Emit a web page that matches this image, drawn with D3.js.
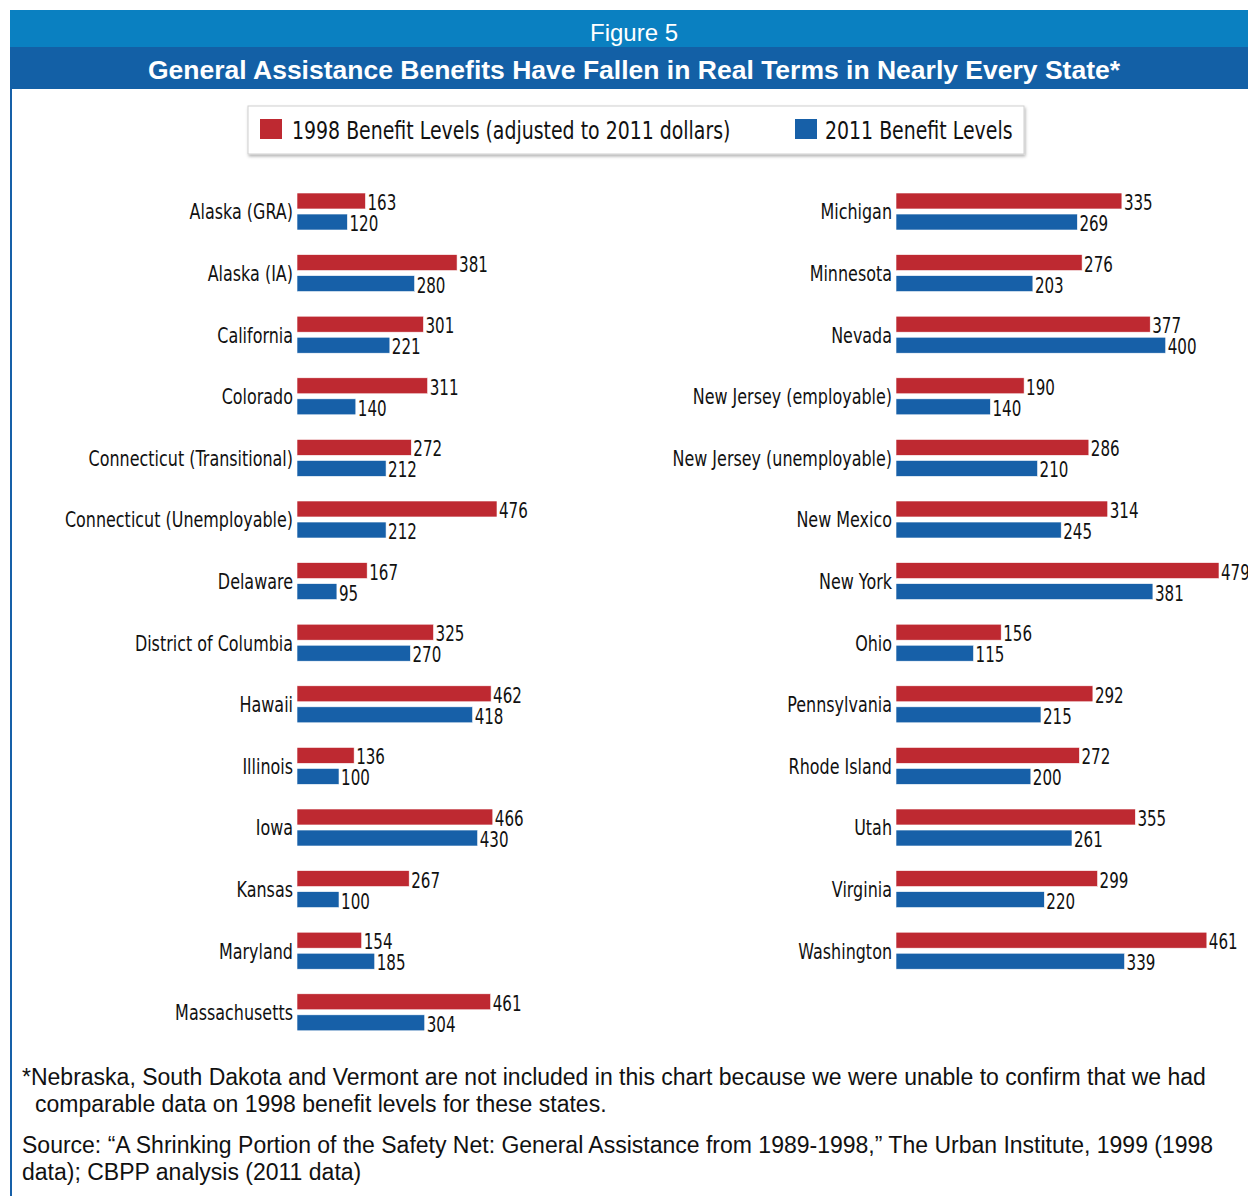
<!DOCTYPE html>
<html>
<head>
<meta charset="utf-8">
<script src="https://cdn.jsdelivr.net/npm/d3@7"></script>
<style>
  body { margin: 0; background: #fff; }
  svg { display: block; }
</style>
</head>
<body>
<script>
// data
const leftStates = ["Alaska (GRA)", "Alaska (IA)", "California", "Colorado", "Connecticut (Transitional)",
  "Connecticut (Unemployable)", "Delaware", "District of Columbia", "Hawaii", "Illinois", "Iowa",
  "Kansas", "Maryland", "Massachusetts"];
const left1998 = [163, 381, 301, 311, 272, 476, 167, 325, 462, 136, 466, 267, 154, 461];
const left2011 = [120, 280, 221, 140, 212, 212, 95, 270, 418, 100, 430, 100, 185, 304];

const rightStates = ["Michigan", "Minnesota", "Nevada", "New Jersey (employable)", "New Jersey (unemployable)",
  "New Mexico", "New York", "Ohio", "Pennsylvania", "Rhode Island", "Utah", "Virginia", "Washington"];
const right1998 = [335, 276, 377, 190, 286, 314, 479, 156, 292, 272, 355, 299, 461];
const right2011 = [269, 203, 400, 140, 210, 245, 381, 115, 215, 200, 261, 220, 339];

const seriesKeys = ["y1998", "y2011"];
const seriesNames = ["1998 Benefit Levels (adjusted to 2011 dollars)", "2011 Benefit Levels"];

const figLabel = "Figure 5";
const title = "General Assistance Benefits Have Fallen in Real Terms in Nearly Every State*";
const noteLines = ["*Nebraska, South Dakota and Vermont are not included in this chart because we were unable to confirm that we had",
  "comparable data on 1998 benefit levels for these states."];
const sourceLines = ["Source: \u201cA Shrinking Portion of the Safety Net: General Assistance from 1989-1998,\u201d The Urban Institute, 1999 (1998",
  "data); CBPP analysis (2011 data)"];

const W = 1248, H = 1196;
const RED = "#be2931", BLUE = "#1760a8";
// no condensed face installed, so squeeze DejaVu horizontally
const narrow = "'DejaVu Sans', sans-serif";
const plain = "'Liberation Sans', Arial, sans-serif";

const svg = d3.select("body").append("svg")
  .attr("width", W)
  .attr("height", H);

const color = d3.scaleOrdinal().domain(seriesKeys).range([RED, BLUE]);

// header bands
svg.append("rect").attr("x", 10).attr("y", 10).attr("width", W - 10).attr("height", 37).attr("fill", "#0a80c1");
svg.append("rect").attr("x", 10).attr("y", 47).attr("width", W - 10).attr("height", 42).attr("fill", "#1360a6");
svg.append("rect").attr("x", 10).attr("y", 89).attr("width", 2).attr("height", H - 89).attr("fill", BLUE);

svg.append("text").attr("x", 634).attr("y", 41)
  .attr("text-anchor", "middle").attr("fill", "#fff")
  .style("font-family", plain).style("font-size", "24px")
  .text(figLabel);
svg.append("text").attr("x", 634).attr("y", 79)
  .attr("text-anchor", "middle").attr("fill", "#fff")
  .style("font-family", plain).style("font-size", "26.5px").style("font-weight", "bold")
  .text(title);

// legend
const defs = svg.append("defs");
const f = defs.append("filter").attr("id", "shadow").attr("x", "-5%").attr("y", "-30%").attr("width", "110%").attr("height", "170%");
f.append("feDropShadow").attr("dx", 1).attr("dy", 2).attr("stdDeviation", 1.5).attr("flood-color", "#000").attr("flood-opacity", 0.3);

svg.append("rect").attr("x", 248).attr("y", 106).attr("width", 776).attr("height", 48)
  .attr("fill", "#fff").attr("stroke", "#cfcfcf").attr("filter", "url(#shadow)");

const legendX = [260, 795];
const lg = svg.append("g").selectAll("g").data(seriesKeys).join("g")
  .attr("transform", (d, i) => `translate(${legendX[i]},119)`);
lg.append("rect").attr("width", 22).attr("height", 20).attr("fill", d => color(d));
lg.append("text").attr("transform", (d, i) => `translate(${i ? 30 : 32},20) scale(0.757,1)`)
  .style("font-family", narrow).style("font-size", "25px").attr("fill", "#111")
  .text((d, i) => seriesNames[i]);

// one panel of paired bars
function drawPanel(states, v1998, v2011, x0, x1, maxVal) {
  const rows = states.map((s, i) => ({ state: s, y1998: v1998[i], y2011: v2011[i] }));
  const step = 61.6;
  const y = d3.scaleBand().domain(states).range([181, 181 + states.length * step]).padding(0);
  const ySub = d3.scaleBand().domain(seriesKeys).range([12, 49]).paddingInner(0.24);
  const x = d3.scaleLinear().domain([0, maxVal]).range([x0, x1]);

  const g = svg.append("g");

  const yAxis = d3.axisLeft(y).tickSize(0).tickPadding(0);
  const ax = g.append("g").attr("transform", `translate(${x0},0)`).call(yAxis);
  ax.select(".domain").remove();
  ax.selectAll("text")
    .attr("dy", null)
    .attr("x", 0)
    .attr("y", 0)
    .attr("transform", "translate(-4,7.5) scale(0.76,1)")
    .style("font-family", narrow).style("font-size", "21px").attr("fill", "#111");

  const row = g.selectAll("g.row").data(rows).join("g")
    .attr("class", "row")
    .attr("transform", d => `translate(0,${y(d.state)})`);

  seriesKeys.forEach(k => {
    row.append("rect")
      .attr("x", x(0))
      .attr("y", ySub(k))
      .attr("width", d => x(d[k]) - x(0))
      .attr("height", ySub.bandwidth())
      .attr("fill", color(k))
      .attr("stroke", "#fff").attr("stroke-width", 0.6);
    row.append("text")
      .attr("transform", d => `translate(${x(d[k]) + 2},${ySub(k) + ySub.bandwidth() + 1}) scale(0.72,1)`)
      .style("font-family", narrow).style("font-size", "21px").attr("fill", "#111")
      .text(d => d[k]);
  });
}

drawPanel(leftStates, left1998, left2011, 297, 497, 476);
drawPanel(rightStates, right1998, right2011, 896, 1219, 479);

// notes
const notes = svg.append("g").style("font-family", plain).style("font-size", "23px").attr("fill", "#111");
notes.append("text").attr("x", 22).attr("y", 1085).text(noteLines[0]);
notes.append("text").attr("x", 35).attr("y", 1112).text(noteLines[1]);
notes.append("text").attr("x", 22).attr("y", 1153).text(sourceLines[0]);
notes.append("text").attr("x", 22).attr("y", 1180).text(sourceLines[1]);
</script>
</body>
</html>
